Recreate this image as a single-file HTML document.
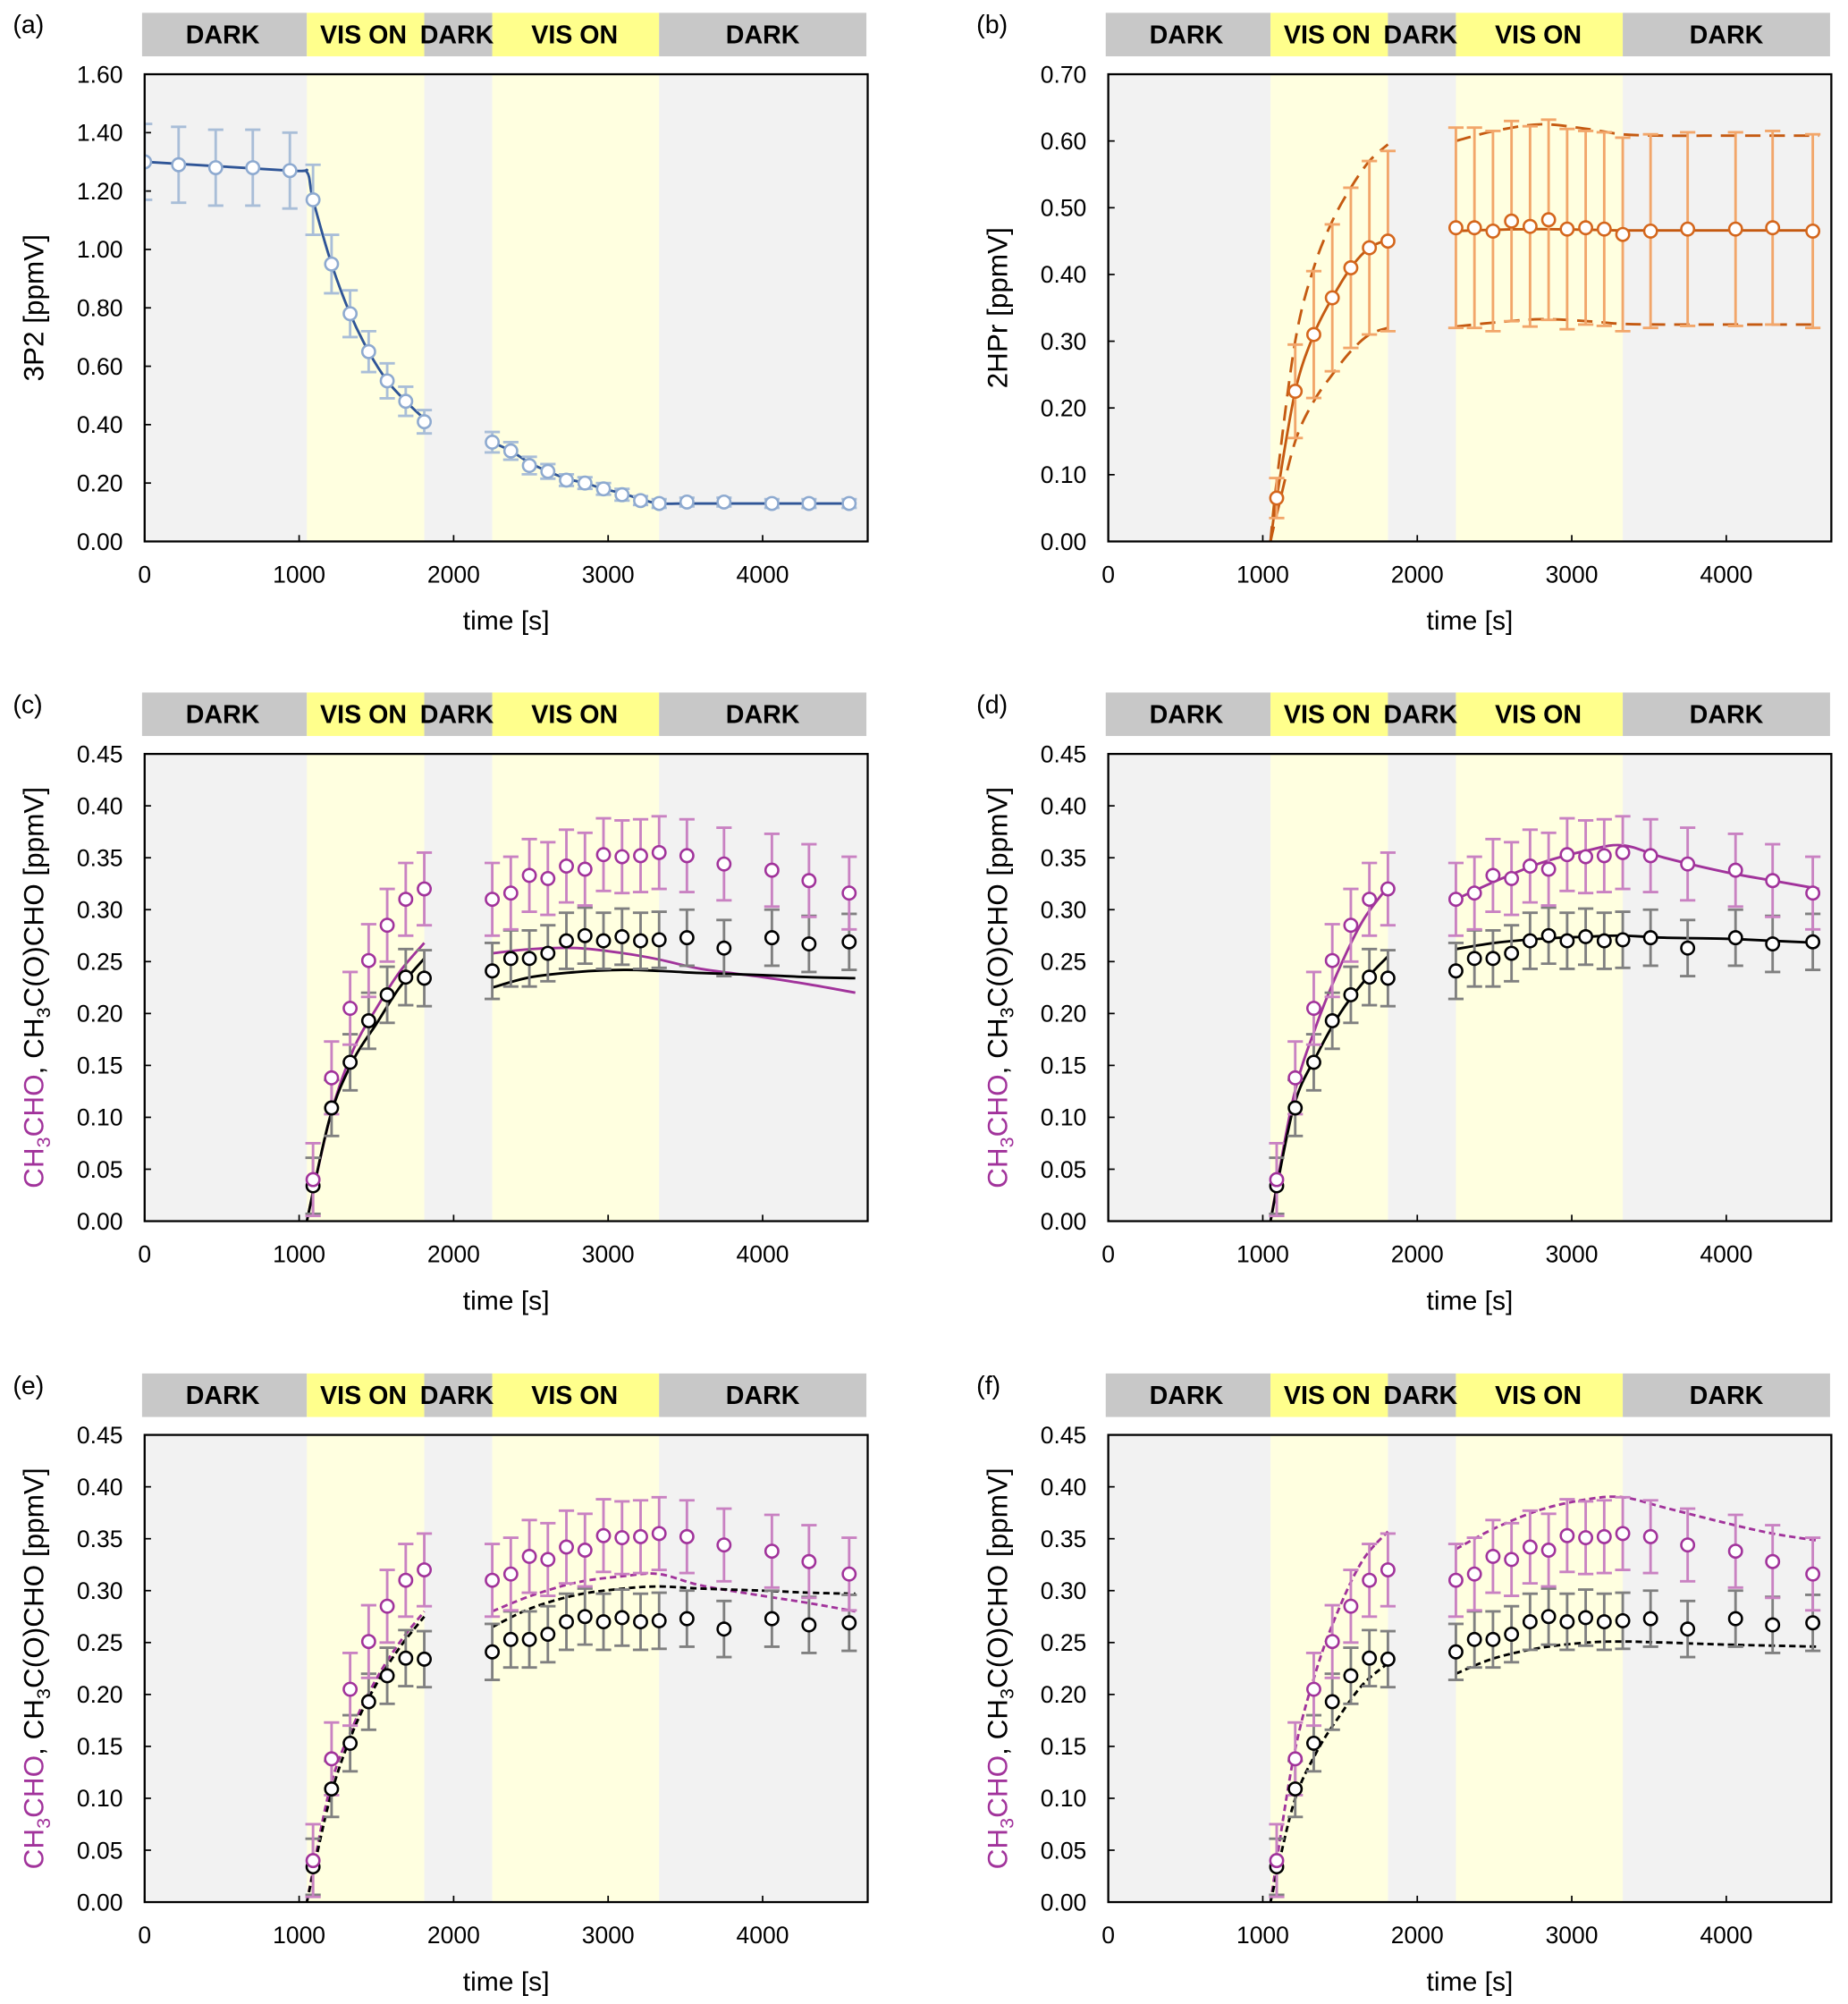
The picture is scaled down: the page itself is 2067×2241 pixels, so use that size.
<!DOCTYPE html>
<html><head><meta charset="utf-8"><style>
html,body{margin:0;padding:0;background:#fff}
svg{display:block}
text{font-family:"Liberation Sans",Arial,sans-serif}
</style></head><body>
<svg id="fig" width="2067" height="2241" viewBox="0 0 1444 1565.6" xmlns="http://www.w3.org/2000/svg"></svg>
<script>
// ---------- data ----------
const tA = [0,220,460,700,940,1090,1210,1330,1450,1570,1690,1810,2250,2370,2490,2610,2730,2850,2970,3090,3210,3330,3510,3750,4060,4300,4560];
const vA = [1.30,1.29,1.28,1.28,1.27,1.17,0.95,0.78,0.65,0.55,0.48,0.41,0.34,0.31,0.26,0.24,0.21,0.20,0.18,0.16,0.14,0.13,0.135,0.135,0.13,0.13,0.13];
const eA = [0.13,0.13,0.13,0.13,0.13,0.12,0.10,0.08,0.07,0.06,0.05,0.04,0.035,0.03,0.03,0.025,0.02,0.02,0.02,0.02,0.015,0.015,0.015,0.015,0.015,0.015,0.015];
const mA1t = [0,940,1050,1090,1210,1330,1450,1570,1690,1810];
const mA1v = [1.30,1.27,1.265,1.17,0.95,0.78,0.65,0.55,0.48,0.42];
const mA2t = [2250,2370,2490,2610,2730,2850,2970,3090,3210,3330,3510,3750,4060,4300,4600];
const mA2v = [0.34,0.31,0.27,0.24,0.215,0.2,0.18,0.165,0.145,0.13,0.13,0.13,0.13,0.13,0.13];

const tB = [1090,1210,1330,1450,1570,1690,1810,2250,2370,2490,2610,2730,2850,2970,3090,3210,3330,3510,3750,4060,4300,4560];
const vB = [0.065,0.225,0.31,0.365,0.41,0.44,0.45,0.47,0.47,0.465,0.48,0.472,0.482,0.468,0.47,0.468,0.46,0.465,0.468,0.468,0.47,0.465];
const eB = [0.03,0.07,0.095,0.11,0.12,0.13,0.135,0.15,0.15,0.15,0.15,0.15,0.15,0.15,0.145,0.145,0.145,0.145,0.145,0.145,0.145,0.145];
const mB1t = [1050,1090,1210,1330,1450,1570,1690,1810];
const mB1v = [0,0.065,0.225,0.31,0.365,0.41,0.44,0.452];
const mB1u = [0,0.09,0.3,0.41,0.48,0.53,0.57,0.595];
const mB1l = [0,0.04,0.15,0.21,0.25,0.285,0.31,0.32];
const mB2t = [2250,2500,2800,3100,3330,3600,4000,4600];
const mB2v = [0.465,0.467,0.468,0.467,0.466,0.466,0.466,0.466];
const mB2u = [0.60,0.615,0.625,0.618,0.61,0.608,0.608,0.608];
const mB2l = [0.322,0.328,0.333,0.33,0.326,0.325,0.325,0.325];

const tC = [1090,1210,1330,1450,1570,1690,1810,2250,2370,2490,2610,2730,2850,2970,3090,3210,3330,3510,3750,4060,4300,4560];
const vMag = [0.04,0.138,0.205,0.251,0.285,0.31,0.32,0.31,0.316,0.333,0.33,0.342,0.339,0.353,0.351,0.352,0.355,0.352,0.344,0.338,0.328,0.316];
const vBlk = [0.034,0.109,0.153,0.193,0.218,0.235,0.234,0.241,0.253,0.253,0.258,0.27,0.275,0.27,0.274,0.27,0.271,0.273,0.263,0.273,0.267,0.269];
const eMag = 0.035, eBlk = 0.027;

const m1t = [1050,1200,1350,1500,1650,1810];
const m2t = [2250,2500,2800,3100,3330,3600,4000,4300,4600];
const cMag1 = [0,0.10,0.165,0.205,0.24,0.268], cMag2 = [0.258,0.262,0.263,0.258,0.252,0.243,0.235,0.228,0.22];
const cBlk1 = [0,0.10,0.155,0.19,0.225,0.253], cBlk2 = [0.225,0.235,0.24,0.242,0.241,0.239,0.237,0.235,0.234];
const dMag1 = [0,0.12,0.19,0.245,0.29,0.322], dMag2 = [0.31,0.327,0.345,0.357,0.362,0.35,0.336,0.328,0.32];
const dBlk1 = [0,0.11,0.16,0.2,0.23,0.255], dBlk2 = [0.262,0.268,0.272,0.274,0.275,0.273,0.272,0.27,0.268];
const eMag1 = [0,0.11,0.17,0.215,0.25,0.28], eMag2 = [0.28,0.295,0.308,0.314,0.316,0.305,0.295,0.288,0.28];
const eBlk1 = [0,0.10,0.165,0.21,0.245,0.275], eBlk2 = [0.265,0.283,0.296,0.302,0.304,0.302,0.3,0.298,0.297];
const fMag1 = [0,0.14,0.225,0.285,0.33,0.357], fMag2 = [0.34,0.36,0.378,0.388,0.39,0.38,0.365,0.355,0.348];
const fBlk1 = [0,0.095,0.145,0.18,0.21,0.23], fBlk2 = [0.22,0.235,0.245,0.25,0.251,0.25,0.248,0.247,0.246];

const xTicks = [0,1000,2000,3000,4000];
const phases = [[0,1050,'DARK'],[1050,1810,'VIS ON'],[1810,2250,'DARK'],[2250,3330,'VIS ON'],[3330,4680,'DARK']];

// ---------- drawing ----------
const NS = 'http://www.w3.org/2000/svg';
const svg = document.getElementById('fig');
function mk(tag, attrs, parent){
  const e = document.createElementNS(NS, tag);
  for (const k in attrs) e.setAttribute(k, attrs[k]);
  (parent||svg).appendChild(e);
  return e;
}
function smooth(pts){
  let d = 'M' + pts[0][0] + ',' + pts[0][1];
  for (let i=0;i<pts.length-1;i++){
    const p0 = pts[Math.max(i-1,0)], p1 = pts[i], p2 = pts[i+1], p3 = pts[Math.min(i+2,pts.length-1)];
    const c1x = p1[0]+(p2[0]-p0[0])/6, c1y = p1[1]+(p2[1]-p0[1])/6;
    const c2x = p2[0]-(p3[0]-p1[0])/6, c2y = p2[1]-(p3[1]-p1[1])/6;
    d += ' C'+c1x+','+c1y+' '+c2x+','+c2y+' '+p2[0]+','+p2[1];
  }
  return d;
}

function panel(o){
  const g = mk('g', {});
  
  
  const L=o.x0, R=o.x0+565, T=o.y0, B=o.y0+365;
  const xmax=4680;
  const X = t => L + t/xmax*(R-L);
  const Y = v => B - v/o.ymax*(B-T);
  const lab = mk('text', {x:o.x0-103, y:o.y0-32, 'font-size':20, fill:'#000'}, g);
  lab.textContent = '('+o.id+')';
  
  
  const bar = mk('g', {}, g);
  
  
  phases.forEach(p=>{
    const x1 = p[0]===0 ? L-2 : X(p[0]), x2 = p[1]>=4680 ? R-1 : X(p[1]);
    const r = mk('rect', {x:x1, y:o.y0-48, width:x2-x1, height:34, fill: p[2]==='DARK' ? '#c8c8c8' : '#ffff8c'}, bar);
    
    
  });
  const labs = [[174,'DARK'],[284,'VIS ON'],[357,'DARK'],[449,'VIS ON'],[596,'DARK']];
  labs.forEach(l=>{
    const t = mk('text', {x:o.x0-113+l[0], y:o.y0-24, 'font-size':20, 'font-weight':'bold', 'text-anchor':'middle'}, bar);
    t.textContent = l[1];
    
    
  });
  mk('rect', {x:L, y:T, width:R-L, height:B-T, fill:'#f2f2f2'}, g);
  [[1050,1810],[2250,3330]].forEach(s=>{
    const r = mk('rect', {x:X(s[0]), y:T, width:X(s[1])-X(s[0]), height:B-T, fill:'#ffffe0'}, g);
    
    
  });
  for (let i=0;i<=o.nt;i++){
    const v = i*o.step;
    const yy = Y(v);
    mk('line', {x1:L, x2:L+5, y1:yy, y2:yy, stroke:'#000', 'stroke-width':1.2}, g);
    const t = mk('text', {x:L-17, y:yy+6.5, 'font-size':18.5, 'text-anchor':'end'}, g);
    t.textContent = v.toFixed(2);
    
    
  }
  xTicks.forEach(v=>{
    mk('line', {x1:X(v), x2:X(v), y1:B, y2:B-5, stroke:'#000', 'stroke-width':1.2}, g);
    const t = mk('text', {x:X(v), y:B+32, 'font-size':18.5, 'text-anchor':'middle'}, g);
    t.textContent = v;
    
    
  });
  const xt = mk('text', {x:(L+R)/2, y:B+69, 'font-size':21, 'text-anchor':'middle'}, g);
  xt.textContent = 'time [s]';
  
  
  const yt = mk('text', {x:0, y:0, 'font-size':22, 'text-anchor':'middle', transform:'translate('+(L-79)+','+((T+B)/2)+') rotate(-90)'}, g);
  
  
  if (o.ylab) yt.textContent = o.ylab;
  else {
    yt.innerHTML = '<tspan fill="#a1339b">CH<tspan font-size="15" dy="5">3</tspan><tspan dy="-5">CHO</tspan></tspan><tspan fill="#000">, CH<tspan font-size="15" dy="5">3</tspan><tspan dy="-5">C(O)CHO [ppmV]</tspan></tspan>';
  }
  const cid = 'clip'+o.id;
  const cp = mk('clipPath', {id:cid}, g);
  mk('rect', {x:L, y:T, width:R-L, height:B-T}, cp);
  const plot = mk('g', {'clip-path':'url(#'+cid+')'}, g);
  o.lines.forEach(ln=>{
    const pts = ln.t.map((t,i)=>[X(t), Y(ln.v[i])]);
    const p = mk('path', {d:smooth(pts), fill:'none', stroke:ln.c, 'stroke-width':ln.w||2, 'stroke-dasharray':ln.dash||'none'}, plot);
    
    
  });
  o.series.forEach(s=>{
    s.t.forEach((t,i)=>{
      const e = Array.isArray(s.e) ? s.e[i] : s.e;
      const x = X(t), y1 = Y(s.v[i]+e), y2 = Y(Math.max(s.v[i]-e, 0));
      const eb = mk('path', {d:'M'+x+','+y1+'V'+y2+'M'+(x-6)+','+y1+'H'+(x+6)+'M'+(x-6)+','+y2+'H'+(x+6), stroke:s.ec, 'stroke-width':2, fill:'none'}, plot);
      
      
    });
  });
  o.series.forEach(s=>{
    s.t.forEach((t,i)=>{
      const c = mk('circle', {cx:X(t), cy:Y(s.v[i]), r:5, fill:'#fff', stroke:s.mc, 'stroke-width':1.8}, plot);
      
      
    });
  });
  const frame = mk('rect', {x:L, y:T, width:R-L, height:B-T, fill:'none', stroke:'#000', 'stroke-width':1.6}, g);
  
  
}

const MAG='#a1339b', MAGE='#c982c2', BLK='#000', BLKE='#808080';
function chemSeries(){ return [
  {t:tC, v:vBlk, e:eBlk, ec:BLKE, mc:BLK, name:'ch3cocho-point'},
  {t:tC, v:vMag, e:eMag, ec:MAGE, mc:MAG, name:'ch3cho-point'}]; }
function chemLines(m1,m2,b1,b2,dash){ return [
  {t:m1t, v:m1, c:MAG, dash:dash, name:'ch3cho-model'},{t:m2t, v:m2, c:MAG, dash:dash, name:'ch3cho-model'},
  {t:m1t, v:b1, c:BLK, dash:dash, name:'ch3cocho-model'},{t:m2t, v:b2, c:BLK, dash:dash, name:'ch3cocho-model'}]; }

panel({id:'a', x0:113, y0:58, ymax:1.6, step:0.2, nt:8, ylab:'3P2 [ppmV]',
  lines:[{t:mA1t,v:mA1v,c:'#2f5597',name:'3p2-model'},{t:mA2t,v:mA2v,c:'#2f5597',name:'3p2-model'}],
  series:[{t:tA, v:vA, e:eA, ec:'#a9bed8', mc:'#8eaad0', name:'3p2-point'}]});
panel({id:'b', x0:866, y0:58, ymax:0.7, step:0.1, nt:7, ylab:'2HPr [ppmV]',
  lines:[{t:mB1t,v:mB1v,c:'#c55a11',name:'2hpr-model'},{t:mB1t,v:mB1u,c:'#c55a11',dash:'12,7',name:'2hpr-upper'},{t:mB1t,v:mB1l,c:'#c55a11',dash:'12,7',name:'2hpr-lower'},
         {t:mB2t,v:mB2v,c:'#c55a11',name:'2hpr-model'},{t:mB2t,v:mB2u,c:'#c55a11',dash:'12,7',name:'2hpr-upper'},{t:mB2t,v:mB2l,c:'#c55a11',dash:'12,7',name:'2hpr-lower'}],
  series:[{t:tB, v:vB, e:eB, ec:'#f2a66a', mc:'#d4661c', name:'2hpr-point'}]});
panel({id:'c', x0:113, y0:589, ymax:0.45, step:0.05, nt:9, lines:chemLines(cMag1,cMag2,cBlk1,cBlk2), series:chemSeries()});
panel({id:'d', x0:866, y0:589, ymax:0.45, step:0.05, nt:9, lines:chemLines(dMag1,dMag2,dBlk1,dBlk2), series:chemSeries()});
panel({id:'e', x0:113, y0:1121, ymax:0.45, step:0.05, nt:9, lines:chemLines(eMag1,eMag2,eBlk1,eBlk2,'5,3'), series:chemSeries()});
panel({id:'f', x0:866, y0:1121, ymax:0.45, step:0.05, nt:9, lines:chemLines(fMag1,fMag2,fBlk1,fBlk2,'5,3'), series:chemSeries()});
</script>
</body></html>
